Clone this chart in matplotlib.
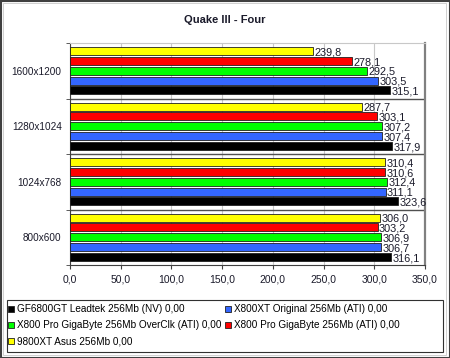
import matplotlib
matplotlib.use("Agg")
import matplotlib.pyplot as plt
from matplotlib.lines import Line2D
from matplotlib.patches import Rectangle

plt.rcParams['font.family'] = ['Liberation Sans', 'DejaVu Sans']

# --- data ---
resolutions = ["1600x1200", "1280x1024", "1024x768", "800x600"]
series_names = [
    "9800XT Asus 256Mb 0,00",
    "X800 Pro GigaByte 256Mb (ATI) 0,00",
    "X800 Pro GigaByte 256Mb OverClk (ATI) 0,00",
    "X800XT Original 256Mb (ATI) 0,00",
    "GF6800GT Leadtek 256Mb (NV) 0,00",
]
series_colors = ["#FFFF00", "#FF0000", "#00FF00", "#3366FF", "#000000"]
# values per series (same order as series_names), per resolution
vals_9800xt = [239.8, 287.7, 310.4, 306.0]
vals_x800pro = [278.1, 303.1, 310.6, 303.2]
vals_x800pro_oc = [292.5, 307.2, 312.4, 306.9]
vals_x800xt = [303.5, 307.4, 311.1, 306.7]
vals_gf6800gt = [315.1, 317.9, 323.6, 316.1]
all_vals = [vals_9800xt, vals_x800pro, vals_x800pro_oc, vals_x800xt, vals_gf6800gt]

xticks = [0, 50, 100, 150, 200, 250, 300, 350]


def fmt(v):
    return f"{v:.1f}".replace('.', ',')


fig = plt.figure(figsize=(4.5, 3.58), dpi=100)
fig.patch.set_facecolor('white')
ax = fig.add_axes([70 / 450, 1 - 265 / 358, 355 / 450, 222 / 358])

pitch = 0.177
bar_h = 0.145
txt_col = '#1a1a2a'
for i, (vals, col) in enumerate(zip(all_vals, series_colors)):
    ys = [g + (i - 2) * pitch for g in range(len(resolutions))]
    ax.barh(ys, vals, height=bar_h, color=col, edgecolor='#202020', linewidth=0.6, zorder=3)
    for y, v in zip(ys, vals):
        ax.text(v + 1.5, y + 0.02, fmt(v), va='center', ha='left', fontsize=7.8, color=txt_col, zorder=4)

ax.set_xlim(0, 350)
ax.set_ylim(3.5, -0.5)
ax.set_xticks(xticks)
ax.set_xticklabels([fmt(x) for x in xticks], fontsize=7.5, color=txt_col)
ax.set_yticks(range(len(resolutions)))
ax.set_yticklabels(resolutions, fontsize=7.2, color=txt_col)
ax.tick_params(axis='y', length=0, pad=6)
ax.tick_params(axis='x', length=3, color='#404040', pad=4)
ax.set_yticks([-0.5, 0.5, 1.5, 2.5, 3.5], minor=True)
ax.tick_params(axis='y', which='minor', length=3, color='#404040')

ax.grid(axis='x', color='#c8c8c8', linewidth=0.8, zorder=0)
for b in [0.5, 1.5, 2.5]:
    ax.axhline(b, color='#505050', linewidth=1.0, zorder=2)

ax.spines['left'].set_color('#404040')
ax.spines['bottom'].set_color('#404040')
ax.spines['top'].set_color('#c8c8c8')
ax.spines['right'].set_color('#808080')
ax.spines['right'].set_linewidth(1.6)

fig.text(0.5, 1 - 20 / 358, "Quake III - Four", ha='center', va='center',
         fontsize=8, fontweight='bold', color='#1a1a2a')

# legend (row-wise order: black, blue / green, red / yellow)
order = [4, 2, 0, 3, 1]
handles = [Line2D([], [], marker='s', linestyle='none', markersize=5,
                  markerfacecolor=series_colors[k], markeredgecolor='#202020',
                  markeredgewidth=0.6) for k in order]
labels = [series_names[k] for k in order]
fig.legend(handles, labels, loc='upper left', bbox_to_anchor=(6 / 450, 1 - 302 / 358),
           ncol=2, frameon=False, fontsize=7.2, handlelength=0.6, handletextpad=0.3,
           labelspacing=0.62, columnspacing=0.35, borderpad=0.2, borderaxespad=0)
fig.patches.append(Rectangle((7 / 450, 1 - 352 / 358), 436 / 450, 52 / 358,
                             transform=fig.transFigure, fill=False,
                             edgecolor='#303030', linewidth=0.8))

# outer frame
fig.patches.append(Rectangle((0.5 / 450, 0.5 / 358), 449 / 450, 357 / 358,
                             transform=fig.transFigure, fill=False,
                             edgecolor='#404040', linewidth=1.5))
fig.patches.append(Rectangle((3 / 450, 3 / 358), 443 / 450, 352 / 358,
                             transform=fig.transFigure, fill=False,
                             edgecolor='#d0d0d0', linewidth=0.7))

fig.savefig('out.png', dpi=100)
